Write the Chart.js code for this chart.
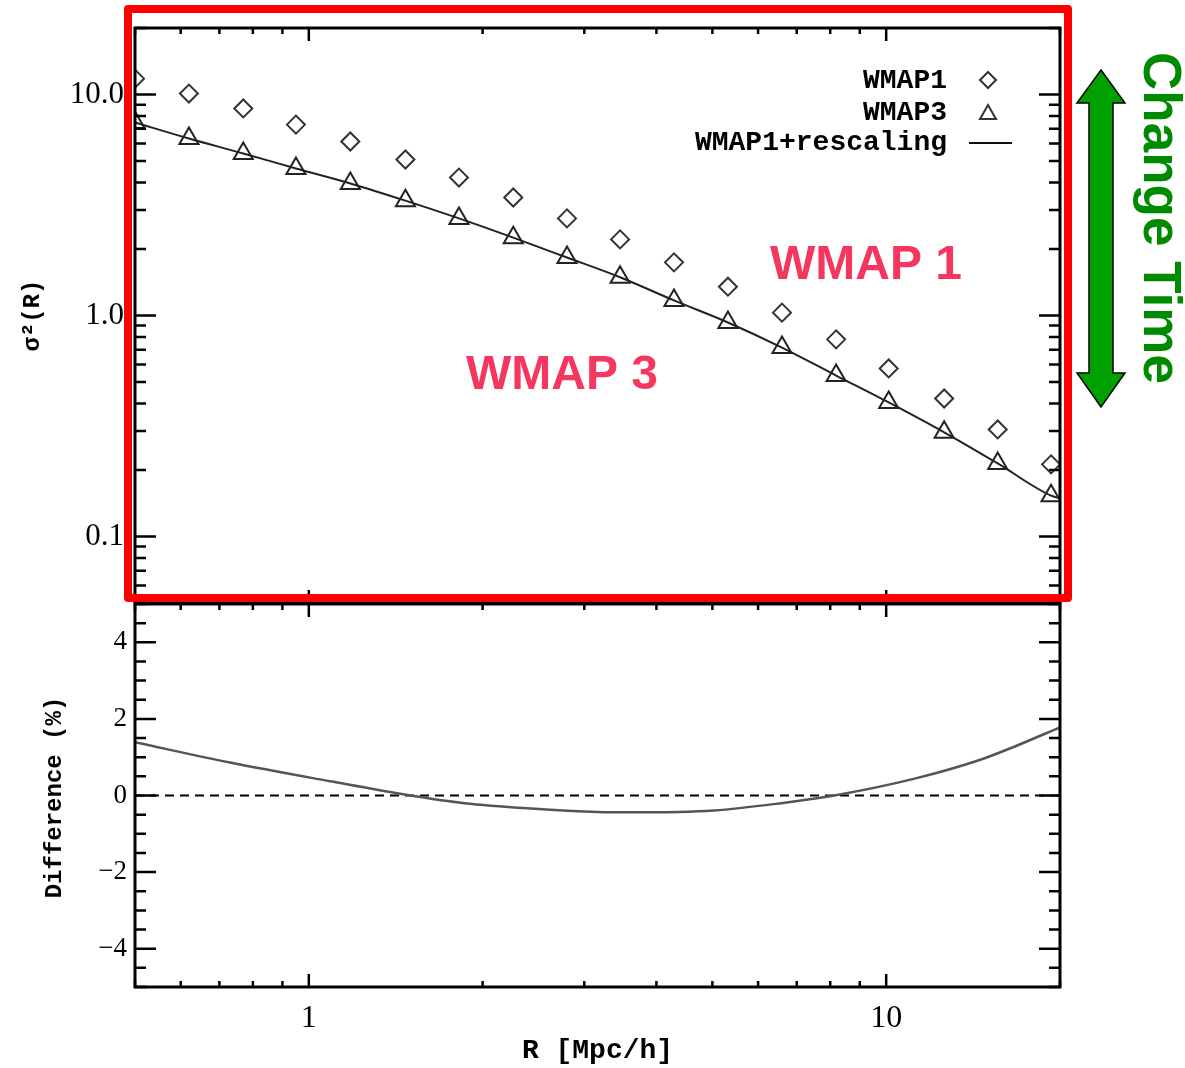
<!DOCTYPE html>
<html>
<head>
    <meta charset="UTF-8">
    <title>sigma^2(R): WMAP1 vs WMAP3</title>
    <script src="https://cdn.jsdelivr.net/npm/chart.js@4.4.0/dist/chart.umd.min.js"></script>
    <style>
        body { margin: 0; background: #fff; }
        #wrap { position: relative; width: 1185px; height: 1068px; overflow: hidden; }
        canvas { position: absolute; left: 0; }
    </style>
</head>
<body>
<div id="wrap">
    <!-- top canvas starts 2px above the page, bottom canvas overlaps it a little -->
    <canvas id="topChart" width="1185" height="635" style="top:-2px"></canvas>
    <canvas id="diffChart" width="1185" height="489" style="top:579px"></canvas>
</div>
<script type="text/javascript">
    // top panel: sigma^2(R)
    var radius = [0.50, 0.62, 0.77, 0.95, 1.18, 1.47, 1.82, 2.26, 2.80, 3.46, 4.29, 5.32, 6.60, 8.19, 10.1, 12.6, 15.6, 19.3];
    var sigma2Wmap1 = [11.8, 10.1, 8.65, 7.31, 6.13, 5.08, 4.21, 3.42, 2.75, 2.21, 1.74, 1.35, 1.03, 0.78, 0.576, 0.421, 0.305, 0.212];
    var sigma2Wmap3 = [7.47, 6.32, 5.41, 4.63, 3.96, 3.31, 2.75, 2.25, 1.83, 1.49, 1.17, 0.93, 0.716, 0.535, 0.404, 0.296, 0.214, 0.153];
    var rescaledRadius = [0.50, 0.62, 0.77, 0.95, 1.18, 1.47, 1.82, 2.26, 2.80, 3.46, 4.29, 5.32, 6.60, 8.19, 10.1, 12.6, 15.6, 19.3, 20.0];
    var sigma2Rescaled = [7.47, 6.32, 5.41, 4.63, 3.96, 3.31, 2.75, 2.25, 1.83, 1.49, 1.17, 0.93, 0.716, 0.535, 0.404, 0.296, 0.214, 0.153, 0.149];

    // bottom panel: difference (%)
    var diffRadius = [0.50, 0.73, 1.09, 1.50, 1.86, 2.43, 3.17, 3.61, 5.03, 6.58, 8.13, 11.2, 14.6, 16.7, 20.0];
    var diffPercent = [1.39, 0.86, 0.37, 0.0, -0.2, -0.34, -0.43, -0.44, -0.39, -0.2, 0.0, 0.44, 0.94, 1.28, 1.78];
    var zeroRadius = [0.5, 20.0];
    var zeroPercent = [0, 0];

    // tick labels
    var sigmaTickLabels = { "0.1": "0.1", "1": "1.0", "10": "10.0" };
    var radiusTickLabels = { "1": "1", "10": "10" };

    var TOP_OFFSET = 2; // top canvas sits 2px above the page

    function pts(xs, ys) {
        return xs.map(function (x, i) { return { x: x, y: ys[i] }; });
    }
    function isDecade(v) {
        var l = Math.log10(v);
        return Math.abs(l - Math.round(l)) < 1e-6;
    }
    function logTicks(min, max) {
        var out = [];
        for (var e = Math.floor(Math.log10(min)); e <= Math.ceil(Math.log10(max)); e++) {
            for (var k = 1; k < 10; k++) {
                var v = k * Math.pow(10, e);
                if (v >= min * 0.9999 && v <= max * 1.0001) out.push({ v: v, major: k === 1 });
            }
        }
        return out;
    }
    function linTicks(min, max) {
        var out = [];
        for (var v = Math.ceil(min * 2) / 2; v <= max + 1e-9; v += 0.5) {
            out.push({ v: v, major: Math.abs(v % 2) < 1e-9 });
        }
        return out;
    }

    // box around each panel, with ticks pointing inward on all four sides
    var framePlugin = {
        id: 'frame',
        afterDatasetsDraw: function (chart, args, opts) {
            var ctx = chart.ctx, a = chart.chartArea;
            var xs = chart.scales.x, ys = chart.scales.y;
            ctx.save();
            ctx.strokeStyle = '#000';
            ctx.lineWidth = 2.5;
            ctx.beginPath();
            logTicks(xs.min, xs.max).forEach(function (t) {
                var px = xs.getPixelForValue(t.v), len = t.major ? 13 : 6;
                ctx.moveTo(px, a.top); ctx.lineTo(px, a.top + len);
                ctx.moveTo(px, a.bottom); ctx.lineTo(px, a.bottom - len);
            });
            var yt = opts.log ? logTicks(ys.min, ys.max) : linTicks(ys.min, ys.max);
            yt.forEach(function (t) {
                var py = ys.getPixelForValue(t.v), len = t.major ? 21 : 11;
                ctx.moveTo(a.left, py); ctx.lineTo(a.left + len, py);
                ctx.moveTo(a.right, py); ctx.lineTo(a.right - len, py);
            });
            ctx.stroke();
            ctx.lineWidth = 3;
            ctx.strokeRect(a.left, a.top, a.right - a.left, a.bottom - a.top);
            // rotated y title
            ctx.fillStyle = '#000';
            ctx.font = opts.yTitleFont;
            ctx.textAlign = 'center';
            ctx.textBaseline = 'middle';
            ctx.translate(opts.yTitleX, (a.top + a.bottom) / 2 + opts.yTitleShift);
            ctx.rotate(-Math.PI / 2);
            ctx.fillText(opts.yTitle, 0, 0);
            ctx.restore();
        }
    };

    // legend, annotations, red box and arrow on the top panel (page coordinates)
    var notesPlugin = {
        id: 'notes',
        afterDraw: function (chart) {
            var ctx = chart.ctx;
            ctx.save();
            ctx.translate(0, TOP_OFFSET);
            // legend
            ctx.fillStyle = '#000';
            ctx.font = 'bold 28px "Liberation Mono"';
            ctx.textAlign = 'right';
            ctx.textBaseline = 'middle';
            ctx.fillText('WMAP1', 947, 81);
            ctx.fillText('WMAP3', 947, 113);
            ctx.fillText('WMAP1+rescaling', 947, 143);
            ctx.strokeStyle = '#333';
            ctx.lineWidth = 2;
            ctx.beginPath();
            ctx.moveTo(988, 72); ctx.lineTo(996, 80); ctx.lineTo(988, 88); ctx.lineTo(980, 80); ctx.closePath();
            ctx.moveTo(988, 105); ctx.lineTo(996, 119); ctx.lineTo(980, 119); ctx.closePath();
            ctx.stroke();
            ctx.strokeStyle = '#111';
            ctx.beginPath();
            ctx.moveTo(969, 143); ctx.lineTo(1012, 143);
            ctx.stroke();

            // pink labels
            ctx.fillStyle = '#F5365F';
            ctx.font = 'bold 48px "Liberation Sans"';
            ctx.textAlign = 'left';
            ctx.textBaseline = 'alphabetic';
            ctx.fillText('WMAP 1', 770, 279);
            ctx.fillText('WMAP 3', 466, 389);

            // red box
            ctx.strokeStyle = '#FF0000';
            ctx.lineWidth = 8;
            ctx.lineJoin = 'round';
            ctx.strokeRect(128, 9, 940, 589);

            // green double arrow
            ctx.fillStyle = '#00A000';
            ctx.strokeStyle = '#000';
            ctx.lineWidth = 1.5;
            ctx.lineJoin = 'miter';
            ctx.beginPath();
            ctx.moveTo(1101, 70);
            ctx.lineTo(1125, 103); ctx.lineTo(1113, 103);
            ctx.lineTo(1113, 373); ctx.lineTo(1125, 373);
            ctx.lineTo(1101, 407);
            ctx.lineTo(1077, 373); ctx.lineTo(1089, 373);
            ctx.lineTo(1089, 103); ctx.lineTo(1077, 103);
            ctx.closePath();
            ctx.fill();
            ctx.stroke();

            // Change Time
            ctx.fillStyle = '#008A00';
            ctx.font = 'bold 53px "Liberation Sans"';
            ctx.textAlign = 'center';
            ctx.textBaseline = 'alphabetic';
            ctx.translate(1144, 218);
            ctx.rotate(Math.PI / 2);
            ctx.fillText('Change Time', 0, 0);
            ctx.restore();
        }
    };

    new Chart(document.getElementById('topChart'), {
        type: 'scatter',
        data: {
            datasets: [
                {
                    label: 'WMAP1',
                    data: pts(radius, sigma2Wmap1),
                    pointStyle: 'rectRot',
                    pointRadius: 9,
                    pointBorderWidth: 2,
                    pointBorderColor: '#333',
                    pointBackgroundColor: 'rgba(0,0,0,0)',
                    showLine: false,
                    clip: 0
                },
                {
                    label: 'WMAP3',
                    data: pts(radius, sigma2Wmap3),
                    pointStyle: 'triangle',
                    pointRadius: 11,
                    pointBorderWidth: 2,
                    pointBorderColor: '#222',
                    pointBackgroundColor: 'rgba(0,0,0,0)',
                    showLine: false,
                    clip: 0
                },
                {
                    label: 'WMAP1+rescaling',
                    data: pts(rescaledRadius, sigma2Rescaled),
                    showLine: true,
                    pointRadius: 0,
                    borderColor: '#222',
                    borderWidth: 2,
                    cubicInterpolationMode: 'monotone',
                    clip: 0
                }
            ]
        },
        options: {
            responsive: false,
            animation: false,
            events: [],
            layout: { padding: { left: 0, right: 125, top: 30, bottom: 30 } },
            plugins: {
                legend: { display: false },
                tooltip: { enabled: false },
                frame: { log: true, yTitle: 'σ²(R)', yTitleFont: 'bold 24px "Liberation Mono"', yTitleX: 33, yTitleShift: 0 }
            },
            scales: {
                x: {
                    type: 'logarithmic', min: 0.5, max: 20,
                    grid: { display: false, drawTicks: false },
                    border: { display: false },
                    ticks: { display: false },
                    afterFit: function (s) { s.height = 0; }
                },
                y: {
                    type: 'logarithmic', min: 0.05, max: 20,
                    grid: { display: false, drawTicks: false },
                    border: { display: false },
                    ticks: {
                        autoSkip: false, padding: 11, color: '#000',
                        font: { family: 'Liberation Serif', size: 31 },
                        callback: function (v) { return isDecade(v) ? (sigmaTickLabels[String(Math.round(v * 10) / 10)] || null) : null; }
                    },
                    afterFit: function (s) { s.width = 135; }
                }
            }
        },
        plugins: [framePlugin, notesPlugin]
    });

    new Chart(document.getElementById('diffChart'), {
        type: 'scatter',
        data: {
            datasets: [
                {
                    label: 'difference',
                    data: pts(diffRadius, diffPercent),
                    showLine: true,
                    pointRadius: 0,
                    borderColor: '#555',
                    borderWidth: 2.5,
                    cubicInterpolationMode: 'monotone',
                    clip: 0
                },
                {
                    label: 'zero',
                    data: pts(zeroRadius, zeroPercent),
                    showLine: true,
                    pointRadius: 0,
                    borderColor: '#000',
                    borderWidth: 2,
                    borderDash: [9, 6],
                    clip: 0
                }
            ]
        },
        options: {
            responsive: false,
            animation: false,
            events: [],
            layout: { padding: { left: 0, right: 125, top: 25, bottom: 0 } },
            plugins: {
                legend: { display: false },
                tooltip: { enabled: false },
                frame: { log: false, yTitle: 'Difference (%)', yTitleFont: 'bold 24px "Liberation Mono"', yTitleX: 55, yTitleShift: 2 }
            },
            scales: {
                x: {
                    type: 'logarithmic', min: 0.5, max: 20,
                    grid: { display: false, drawTicks: false },
                    border: { display: false },
                    ticks: {
                        autoSkip: false, maxRotation: 0, minRotation: 0, padding: 12, color: '#000',
                        font: { family: 'Liberation Serif', size: 32 },
                        callback: function (v) { return isDecade(v) ? (radiusTickLabels[String(Math.round(v))] || null) : null; }
                    },
                    title: {
                        display: true, text: 'R [Mpc/h]', color: '#000', padding: { top: 4, bottom: 0 },
                        font: { family: 'Liberation Mono', size: 28, weight: 'bold' }
                    },
                    afterFit: function (s) { s.height = 81; }
                },
                y: {
                    type: 'linear', min: -5, max: 5,
                    grid: { display: false, drawTicks: false },
                    border: { display: false },
                    ticks: {
                        autoSkip: false, stepSize: 1, padding: 8, color: '#000',
                        font: { family: 'Liberation Serif', size: 27 },
                        callback: function (v) {
                            if (Math.abs(v) > 4.5 || Math.abs(v % 2) > 1e-9) return null;
                            return v < 0 ? '\u2212' + Math.abs(v) : String(v);
                        }
                    },
                    afterFit: function (s) { s.width = 135; }
                }
            }
        },
        plugins: [framePlugin]
    });
</script>
</body>
</html>
